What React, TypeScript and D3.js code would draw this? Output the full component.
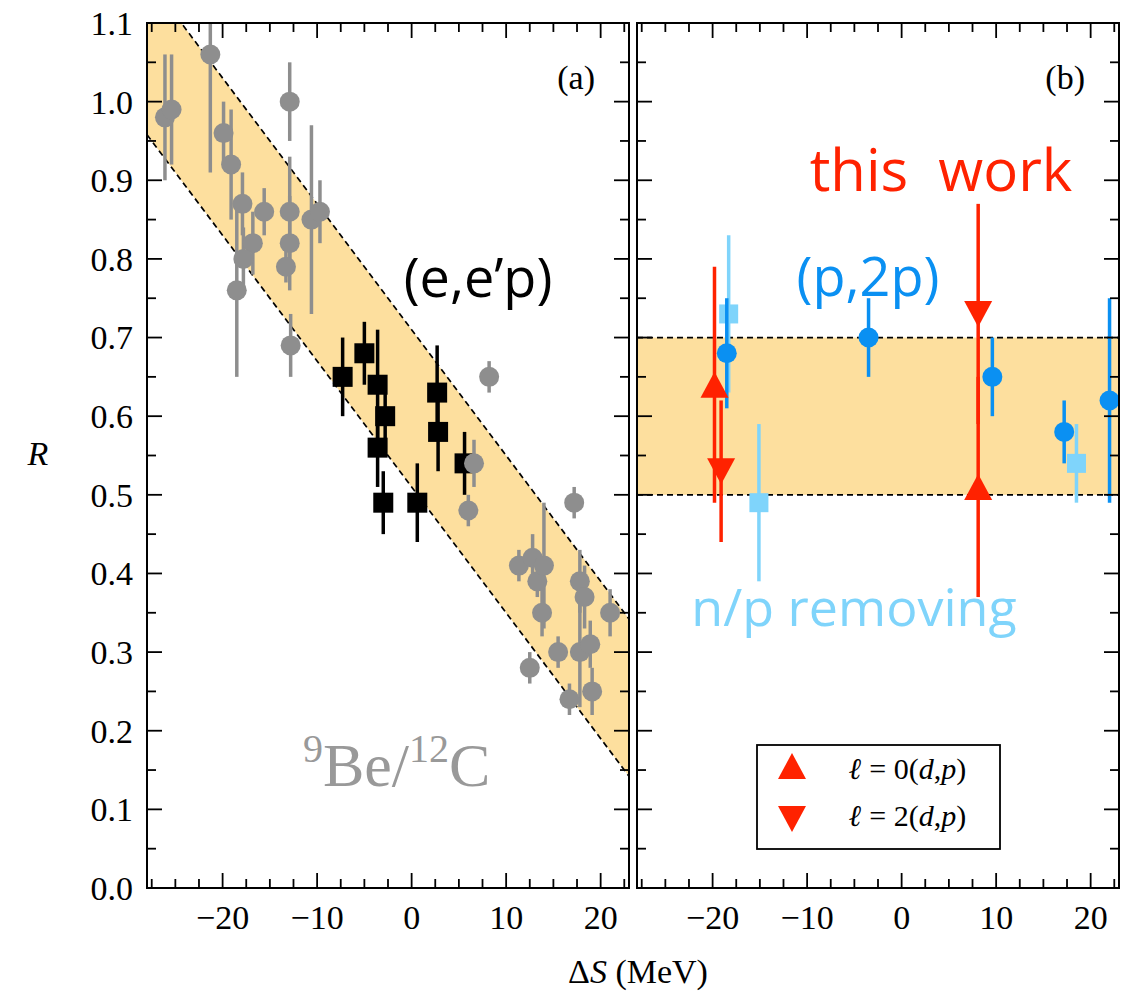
import * as d3 from "d3";
import { useEffect, useRef } from "react";

// panel (a): 9Be/12C knockout data (grey circles)
const beDS = [-26.1, -25.4, -21.3, -19.9, -19.1, -17.9, -15.6, -16.8, -17.8, -18.5, -12.9, -12.9, -12.9, -13.3, -10.6, -9.7, -12.8, 6.6, 6.0, 8.2, 17.2, 11.35, 12.8, 13.3, 14.0, 13.8, 17.8, 18.3, 17.8, 18.9, 19.1, 16.7, 15.5, 12.5, 21.0];
const beR = [0.98, 0.99, 1.06, 0.96, 0.92, 0.87, 0.86, 0.82, 0.80, 0.76, 1.00, 0.86, 0.82, 0.79, 0.85, 0.86, 0.69, 0.54, 0.48, 0.65, 0.49, 0.41, 0.42, 0.39, 0.41, 0.35, 0.39, 0.37, 0.30, 0.31, 0.25, 0.24, 0.30, 0.28, 0.35];
const beErr = [0.08, 0.07, 0.15, 0.04, 0.07, 0.04, 0.03, 0.04, 0.04, 0.11, 0.05, 0.07, 0.06, 0.02, 0.12, 0.04, 0.04, 0.03, 0.02, 0.02, 0.02, 0.02, 0.03, 0.02, 0.08, 0.03, 0.04, 0.04, 0.07, 0.03, 0.03, 0.02, 0.02, 0.02, 0.03];

// panel (a): (e,e'p) black squares
const eepDS = [-7.3, -5.0, -3.6, -2.8, -3.6, -3.0, 0.6, 2.7, 2.8, 5.6];
const eepR = [0.65, 0.68, 0.64, 0.60, 0.56, 0.49, 0.49, 0.63, 0.58, 0.54];
const eepErr = [0.05, 0.04, 0.07, 0.04, 0.05, 0.04, 0.05, 0.06, 0.05, 0.04];

// panel (b): (p,2p) blue circles
const p2pDS = [-18.5, -3.5, 9.6, 17.2, 22.0];
const p2pR = [0.68, 0.70, 0.65, 0.58, 0.62];
const p2pErr = [0.07, 0.05, 0.05, 0.04, 0.13];

// panel (b): n/p removing light blue squares
const npDS = [-18.3, -15.1, 18.5];
const npR = [0.73, 0.49, 0.54];
const npErr = [0.10, 0.10, 0.05];

// panel (b): this work
const l0DS = [-19.8, 8.1];
const l0R = [0.64, 0.51];
const l0Err = [0.15, 0.14];
const l2DS = [-19.1, 8.1];
const l2R = [0.53, 0.73];
const l2Err = [0.09, 0.14];

// bands
const bandSlope = -0.016;
const bandA = [0.51, 0.71];
const bandB = [0.5, 0.7];

const xMajor = [-20, -10, 0, 10, 20];
const yMajor = d3.range(0, 1.11, 0.1);

export default function App() {
  const ref = useRef<SVGSVGElement>(null);

  useEffect(() => {
    const svg = d3.select(ref.current);
    svg.selectAll("*").remove();

    const W = 1132, H = 992;
    svg.attr("width", W).attr("height", H);

    const y = d3.scaleLinear().domain([0, 1.1]).range([888, 23]);
    const xa = d3.scaleLinear().domain([-28, 23]).range([147, 629]);
    const xb = d3.scaleLinear().domain([-28, 23]).range([637, 1119]);

    const serif = "'Liberation Serif', 'Times New Roman', serif";
    const sans = "'Open Sans', 'Noto Sans', sans-serif";

    const defs = svg.append("defs");
    [["clipA", xa], ["clipB", xb]].forEach(([id, x]: any) => {
      defs.append("clipPath").attr("id", id)
        .append("rect")
        .attr("x", x.range()[0]).attr("y", y.range()[1])
        .attr("width", x.range()[1] - x.range()[0])
        .attr("height", y.range()[0] - y.range()[1]);
    });

    const gA = svg.append("g").attr("clip-path", "url(#clipA)");
    const gB = svg.append("g").attr("clip-path", "url(#clipB)");

    // band (a)
    const [d0, d1] = xa.domain();
    const line = (b: number) => [[d0, b + bandSlope * d0], [d1, b + bandSlope * d1]];
    const lo = line(bandA[0]), hi = line(bandA[1]);
    const poly = [...hi, ...lo.slice().reverse()].map(p => [xa(p[0]), y(p[1])]);
    gA.append("path").attr("d", "M" + poly.join("L") + "Z").attr("fill", "#fddf9e");
    [lo, hi].forEach(l => {
      gA.append("path")
        .attr("d", d3.line()(l.map(p => [xa(p[0]), y(p[1])]) as any))
        .attr("stroke", "#000").attr("stroke-width", 1.7).attr("stroke-dasharray", "6,4").attr("fill", "none");
    });

    // band (b)
    gB.append("rect")
      .attr("x", xb.range()[0]).attr("width", xb.range()[1] - xb.range()[0])
      .attr("y", y(bandB[1])).attr("height", y(bandB[0]) - y(bandB[1]))
      .attr("fill", "#fddf9e");
    bandB.forEach(v => {
      gB.append("line")
        .attr("x1", xb.range()[0]).attr("x2", xb.range()[1])
        .attr("y1", y(v)).attr("y2", y(v))
        .attr("stroke", "#000").attr("stroke-width", 1.7).attr("stroke-dasharray", "6,4");
    });

    const errBars = (g: any, x: any, xs: number[], rs: number[], es: number[], color: string, w: number) => {
      g.append("g").selectAll("line").data(xs).enter().append("line")
        .attr("x1", (d: number) => x(d)).attr("x2", (d: number) => x(d))
        .attr("y1", (_: number, i: number) => y(rs[i] - es[i]))
        .attr("y2", (_: number, i: number) => y(rs[i] + es[i]))
        .attr("stroke", color).attr("stroke-width", w);
    };
    const circles = (g: any, x: any, xs: number[], rs: number[], color: string, r: number) => {
      g.append("g").selectAll("circle").data(xs).enter().append("circle")
        .attr("cx", (d: number) => x(d)).attr("cy", (_: number, i: number) => y(rs[i]))
        .attr("r", r).attr("fill", color);
    };
    const squares = (g: any, x: any, xs: number[], rs: number[], color: string, s: number) => {
      g.append("g").selectAll("rect").data(xs).enter().append("rect")
        .attr("x", (d: number) => x(d) - s / 2).attr("y", (_: number, i: number) => y(rs[i]) - s / 2)
        .attr("width", s).attr("height", s).attr("fill", color);
    };
    const tri = (cx: number, cy: number, up: boolean, w = 28, h = 26) =>
      up
        ? `M${cx},${cy - h / 2}L${cx + w / 2},${cy + h / 2}L${cx - w / 2},${cy + h / 2}Z`
        : `M${cx},${cy + h / 2}L${cx + w / 2},${cy - h / 2}L${cx - w / 2},${cy - h / 2}Z`;
    const triangles = (g: any, x: any, xs: number[], rs: number[], up: boolean, color: string) => {
      g.append("g").selectAll("path").data(xs).enter().append("path")
        .attr("d", (d: number, i: number) => tri(x(d), y(rs[i]), up))
        .attr("fill", color);
    };

    // panel (a) data
    errBars(gA, xa, eepDS, eepR, eepErr, "#000", 3.5);
    squares(gA, xa, eepDS, eepR, "#000", 20);
    errBars(gA, xa, beDS, beR, beErr, "#8e8e8e", 3.5);
    circles(gA, xa, beDS, beR, "#8e8e8e", 10);

    // panel (b) data
    const red = "#ff2200", blue = "#0a90f2", lblue = "#7fd4fb";
    errBars(gB, xb, npDS, npR, npErr, lblue, 3.5);
    squares(gB, xb, npDS, npR, lblue, 19);
    errBars(gB, xb, p2pDS, p2pR, p2pErr, blue, 3.5);
    circles(gB, xb, p2pDS, p2pR, blue, 10);
    errBars(gB, xb, l0DS, l0R, l0Err, red, 3.5);
    triangles(gB, xb, l0DS, l0R, true, red);
    errBars(gB, xb, l2DS, l2R, l2Err, red, 3.5);
    triangles(gB, xb, l2DS, l2R, false, red);

    // frames and ticks
    [xa, xb].forEach((x, k) => {
      const g = svg.append("g");
      const [x0, x1] = x.range();
      const [yb, yt] = y.range();
      const tk = (x1a: number, y1a: number, x2a: number, y2a: number) =>
        g.append("line").attr("x1", x1a).attr("y1", y1a).attr("x2", x2a).attr("y2", y2a)
          .attr("stroke", "#000").attr("stroke-width", 1.8);
      d3.range(-27.5, 23, 2.5).forEach(v => {
        const len = xMajor.includes(v) ? 15 : 9;
        tk(x(v), yb, x(v), yb - len);
        tk(x(v), yt, x(v), yt + len);
      });
      d3.range(0, 22).forEach(i => {
        const v = i * 0.05;
        const len = i % 2 === 0 ? 15 : 9;
        tk(x0, y(v), x0 + len, y(v));
        tk(x1, y(v), x1 - len, y(v));
      });
      g.append("rect").attr("x", x0).attr("y", yt).attr("width", x1 - x0).attr("height", yb - yt)
        .attr("fill", "none").attr("stroke", "#000").attr("stroke-width", 2);

      g.selectAll("text.xt").data(xMajor).enter().append("text")
        .attr("x", d => x(d)).attr("y", 929)
        .attr("text-anchor", "middle").attr("font-family", serif).attr("font-size", 34)
        .text(d => (d < 0 ? "\u2212" + Math.abs(d) : String(d)));

      g.append("text").attr("x", x1 - 34).attr("y", 89).attr("text-anchor", "end")
        .attr("font-family", serif).attr("font-size", 34)
        .text(k === 0 ? "(a)" : "(b)");
    });

    // y tick labels
    svg.append("g").selectAll("text").data(yMajor).enter().append("text")
      .attr("x", 133).attr("y", d => y(d)).attr("dy", "0.35em")
      .attr("text-anchor", "end").attr("font-family", serif).attr("font-size", 34)
      .text(d => d.toFixed(1));

    // axis titles
    svg.append("text").attr("x", 38).attr("y", 465).attr("text-anchor", "middle")
      .attr("font-family", serif).attr("font-size", 34).attr("font-style", "italic").text("R");
    const xt = svg.append("text").attr("x", 638).attr("y", 983).attr("text-anchor", "middle")
      .attr("font-family", serif).attr("font-size", 34);
    xt.append("tspan").text("\u0394");
    xt.append("tspan").attr("font-style", "italic").text("S");
    xt.append("tspan").text(" (MeV)");

    // annotations
    svg.append("text").attr("x", 478).attr("y", 297).attr("text-anchor", "middle")
      .attr("font-family", sans).attr("font-size", 54).attr("fill", "#000").text("(e,e\u2019p)");
    svg.append("text").attr("x", 868).attr("y", 296).attr("text-anchor", "middle")
      .attr("font-family", sans).attr("font-size", 54).attr("fill", blue).text("(p,2p)");
    svg.append("text").attr("x", 941).attr("y", 191).attr("text-anchor", "middle")
      .attr("font-family", sans).attr("font-size", 58).attr("fill", red)
      .attr("xml:space", "preserve").text("this  work");
    svg.append("text").attr("x", 854).attr("y", 626).attr("text-anchor", "middle")
      .attr("font-family", sans).attr("font-size", 52).attr("fill", lblue).text("n/p removing");
    const be = svg.append("text").attr("x", 303).attr("y", 786)
      .attr("font-family", serif).attr("font-size", 62).attr("fill", "#999");
    be.append("tspan").attr("font-size", 40).attr("dy", -24).text("9");
    be.append("tspan").attr("dy", 24).text("Be/");
    be.append("tspan").attr("font-size", 40).attr("dy", -24).text("12");
    be.append("tspan").attr("dy", 24).text("C");

    // legend
    const lg = svg.append("g");
    lg.append("rect").attr("x", 757).attr("y", 745).attr("width", 243).attr("height", 104)
      .attr("fill", "#fff").attr("stroke", "#000").attr("stroke-width", 1.8);
    lg.append("path").attr("d", tri(792, 766, true)).attr("fill", red);
    lg.append("path").attr("d", tri(792, 819, false)).attr("fill", red);
    ["0", "2"].forEach((l, i) => {
      const t = lg.append("text").attr("x", 849).attr("y", 779 + i * 47)
        .attr("font-family", serif).attr("font-size", 30);
      t.append("tspan").attr("font-style", "italic").attr("font-weight", "bold").text("\u2113");
      t.append("tspan").text(` = ${l}(`);
      t.append("tspan").attr("font-style", "italic").text("d");
      t.append("tspan").text(",");
      t.append("tspan").attr("font-style", "italic").text("p");
      t.append("tspan").text(")");
    });
  }, []);

  return (
    <div style={{ position: "absolute", left: 0, top: 0 }}>
      <svg ref={ref} style={{ display: "block", background: "#fff" }}></svg>
    </div>
  );
}
